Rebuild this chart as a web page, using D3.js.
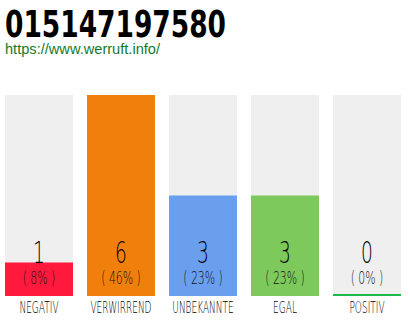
<!DOCTYPE html>
<html>
<head>
<meta charset="utf-8">
<script src="https://cdn.jsdelivr.net/npm/d3@7"></script>
<style>
body{margin:0;background:#fff;}
svg{display:block;}
</style>
</head>
<body>
<svg id="chart" width="410" height="320"></svg>
<script>
// vote data
var categories=["NEGATIV","VERWIRREND","UNBEKANNTE","EGAL","POSITIV"];
var counts=[1,6,3,3,0];
var percents=["( 8% )","( 46% )","( 23% )","( 23% )","( 0% )"];
var colors=["#ff1a3d","#f07f0c","#6a9fee","#7dc95b","#1db84a"];
var title="015147197580";
var url="https://www.werruft.info/";

var svg=d3.select("#chart");
var space={left:5,right:401,top:95,bottom:296};

var x=d3.scaleBand().domain(categories).range([space.left,space.right]).paddingInner(14/82).paddingOuter(0);
var y=d3.scaleLinear().domain([0,d3.max(counts)]).range([space.bottom,space.top]);

// header
svg.append("text")
    .attr("x",5).attr("y",37)
    .attr("textLength",221).attr("lengthAdjust","spacingAndGlyphs")
    .style("font-family","'Liberation Sans Narrow','DejaVu Sans Condensed',sans-serif")
    .style("font-weight","bold").style("font-size","38px").style("fill","#000")
    .text(title);
svg.append("text")
    .attr("x",5).attr("y",54)
    .attr("textLength",155).attr("lengthAdjust","spacingAndGlyphs")
    .style("font-family","'Liberation Sans',Arial,sans-serif")
    .style("font-size","14px").style("fill","#137a2a")
    .text(url);

var cols=svg.selectAll(".col").data(categories).enter().append("g").attr("class","col");

// background
cols.append("rect")
    .attr("x",function(d){return x(d)}).attr("y",space.top)
    .attr("width",x.bandwidth()).attr("height",space.bottom-space.top)
    .style("fill","#efefef");

// value bars
cols.append("rect")
    .attr("x",function(d){return x(d)})
    .attr("y",function(d,i){return counts[i]>0?y(counts[i]):space.bottom-2})
    .attr("width",x.bandwidth())
    .attr("height",function(d,i){return counts[i]>0?space.bottom-y(counts[i]):2})
    .style("fill",function(d,i){return colors[i]});

var cx=function(d){return x(d)+x.bandwidth()/2};

// count
cols.append("text")
    .attr("transform",function(d){return "translate("+cx(d)+",263) scale(0.6,1)"})
    .attr("text-anchor","middle")
    .style("font-family","'DejaVu Sans',sans-serif").style("font-weight","200")
    .style("font-size","31px").style("fill","#000")
    .text(function(d,i){return counts[i]});

// percent
cols.append("text")
    .attr("transform",function(d){return "translate("+cx(d)+",284) scale(0.64,1)"})
    .attr("text-anchor","middle")
    .style("font-family","'DejaVu Sans',sans-serif").style("font-weight","200")
    .style("font-size","17px").style("fill","#111")
    .text(function(d,i){return percents[i]});

// labels
cols.append("text")
    .attr("transform",function(d){return "translate("+cx(d)+",313) scale(0.6,1)"})
    .attr("text-anchor","middle")
    .style("font-family","'DejaVu Sans',sans-serif").style("font-weight","200")
    .style("font-size","15px").style("fill","#000")
    .text(function(d){return d});
</script>
</body>
</html>
